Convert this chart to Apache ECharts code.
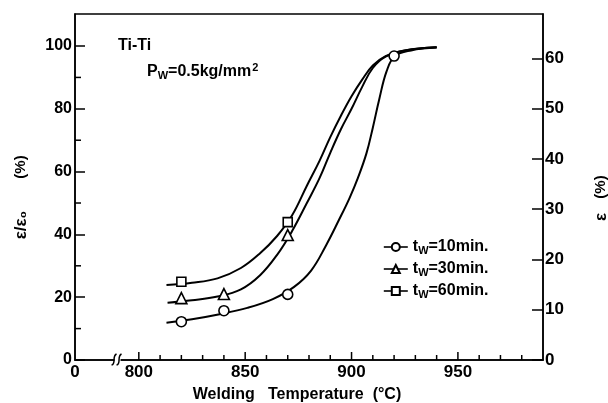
<!DOCTYPE html>
<html>
<head>
<meta charset="utf-8">
<script src="https://cdn.jsdelivr.net/npm/echarts@6/dist/echarts.min.js"></script>
<style>html,body{margin:0;padding:0;background:#fff}#c{width:608px;height:403px}</style>
</head>
<body>
<div id="c"></div>
<script>
// ---- data ----
const xMin = 770, xMax = 990;
const yLeftMax = 110.2, yRightMax = 68.8;
const xLabelTicks = [800, 850, 900, 950];
const xMinorTicks = [810, 820, 830, 840, 860, 870, 880, 890, 910, 920, 930, 940, 960, 970, 980];
const yLeftMinorTicks = [10, 30, 50, 70, 90];
const xBreakAt = 790;

const seriesNames = ['10', '30', '60'];
const points10 = [[820, 12.2], [840, 15.7], [870, 20.9], [920, 96.8]];
const points30 = [[820, 19.7], [840, 21.0], [870, 39.8]];
const points60 = [[820, 24.9], [870, 43.9]];

const curve10 = [[813, 11.9], [825, 13], [838, 14.6], [851, 16.6], [863, 19.4], [873, 23.3], [881, 28.5], [888, 36.5], [894, 44.5], [899, 51.5], [903, 58], [907, 65.8], [910, 74], [913, 83], [916.5, 92], [920.4, 96.8], [928, 98.6], [940, 99.5]];
const curve30 = [[813.5, 18.2], [825, 19], [837, 20.2], [848, 22.5], [857, 27], [865, 33.5], [872, 41], [879, 50], [885, 58], [890, 66], [895, 73.5], [900, 80], [905, 87], [910, 93], [916, 96.6], [925, 98.6], [940, 99.6]];
const curve60 = [[813, 23.9], [825, 24.6], [837, 26], [848, 29.3], [857, 34], [865, 39.5], [872, 46], [879, 55.5], [885, 63.5], [890, 71], [895, 77.8], [900, 84], [905, 89.3], [910, 93.8], [916, 96.8], [925, 98.6], [940, 99.6]];

const FONT = 'Liberation Sans';
const chart = echarts.init(document.getElementById('c'), null, {renderer: 'canvas'});

function tickRenderer(len, vertical) {
  return function (params, api) {
    const p = api.coord([api.value(0), api.value(1)]);
    return vertical
      ? {type: 'line', shape: {x1: p[0], y1: p[1], x2: p[0], y2: p[1] - len}, style: {stroke: '#000', lineWidth: 1.5}}
      : {type: 'line', shape: {x1: p[0], y1: p[1], x2: p[0] + len, y2: p[1]}, style: {stroke: '#000', lineWidth: 1.5}};
  };
}

const lineCurve = (data) => ({
  type: 'line', data: data, smooth: 0.4, showSymbol: false, symbol: 'none',
  lineStyle: {color: '#000', width: 2}, silent: true, z: 3, legendHoverLink: false
});
const pointSeries = (name, data, symbol, size) => ({
  name: name, type: 'line', data: data, symbol: symbol, symbolSize: size, showSymbol: true,
  lineStyle: {width: 0, opacity: 0}, itemStyle: {color: '#fff', borderColor: '#000', borderWidth: 1.6}, z: 5
});

chart.setOption({
  animation: false,
  backgroundColor: '#fff',
  grid: {left: 75, right: 65, top: 14, bottom: 43, show: true, borderColor: '#000', borderWidth: 1.5, backgroundColor: 'transparent'},
  xAxis: {
    type: 'value', min: xMin, max: xMax, interval: 10,
    axisLine: {lineStyle: {color: '#000', width: 1.5}},
    axisTick: {show: false},
    splitLine: {show: false},
    axisLabel: {
      color: '#000', fontFamily: FONT, fontWeight: 'bold', fontSize: 17, margin: 4,
      formatter: v => v === xMin ? '0' : (xLabelTicks.indexOf(v) >= 0 ? String(v) : '')
    }
  },
  yAxis: [{
    type: 'value', min: 0, max: yLeftMax, interval: 20, position: 'left',
    axisLine: {show: true, lineStyle: {color: '#000', width: 1.5}},
    axisTick: {show: true, inside: true, length: 10, lineStyle: {color: '#000', width: 1.5}},
    splitLine: {show: false},
    axisLabel: {color: '#000', fontFamily: FONT, fontWeight: 'bold', fontSize: 16, margin: 3, showMaxLabel: false,
      formatter: v => (v % 20 === 0 ? String(v) : '')}
  }, {
    type: 'value', min: 0, max: yRightMax, interval: 10, position: 'right',
    axisLine: {show: true, lineStyle: {color: '#000', width: 1.5}},
    axisTick: {show: true, inside: true, length: 11, lineStyle: {color: '#000', width: 1.5}},
    splitLine: {show: false},
    axisLabel: {color: '#000', fontFamily: FONT, fontWeight: 'bold', fontSize: 17, margin: 2, showMaxLabel: false,
      formatter: v => (v % 10 === 0 ? String(v) : '')}
  }],
  legend: {
    data: seriesNames,
    orient: 'vertical', left: 378, top: 233, itemWidth: 24, itemHeight: 10, itemGap: 4,
    lineStyle: {color: '#000', width: 1.6, opacity: 1},
    formatter: n => '{t|t}{s|W}{t|=' + n + 'min.}',
    textStyle: {
      color: '#000', fontFamily: FONT,
      rich: {
        t: {fontSize: 16, fontWeight: 'bold', fontFamily: FONT, color: '#000', lineHeight: 18},
        s: {fontSize: 11, fontWeight: 'bold', fontFamily: FONT, color: '#000', lineHeight: 18, padding: [7, 0, 0, 0]}
      }
    },
    selectedMode: false
  },
  graphic: [
    {type: 'text', left: 118, top: 38, style: {text: 'Ti-Ti', font: 'bold 16px "Liberation Sans"', fill: '#000'}},
    {type: 'text', left: 147, top: 62, style: {
      text: '{a|P}{b|W}{a|=0.5kg/mm}{c|2}', fill: '#000',
      rich: {
        a: {fontSize: 16, fontWeight: 'bold', fontFamily: FONT, lineHeight: 22},
        b: {fontSize: 11, fontWeight: 'bold', fontFamily: FONT, lineHeight: 22, padding: [8, 0, 0, 0]},
        c: {fontSize: 11, fontWeight: 'bold', fontFamily: FONT, lineHeight: 22, padding: [0, 0, 8, 1]}
      }}},
    {type: 'text', x: 297, y: 395, style: {text: 'Welding   Temperature  (°C)', font: 'bold 16px "Liberation Sans"', fill: '#000', textAlign: 'center', textVerticalAlign: 'middle'}},
    {type: 'text', x: 21, y: 225, rotation: Math.PI / 2, style: {text: 'ε/ε₀', font: 'bold 17px "Liberation Sans"', fill: '#000', textAlign: 'center', textVerticalAlign: 'middle'}},
    {type: 'text', x: 21, y: 167, rotation: Math.PI / 2, style: {text: '(%)', font: 'bold 15px "Liberation Sans"', fill: '#000', textAlign: 'center', textVerticalAlign: 'middle'}},
    {type: 'text', x: 601, y: 217, rotation: Math.PI / 2, style: {text: 'ε', font: 'bold 17px "Liberation Sans"', fill: '#000', textAlign: 'center', textVerticalAlign: 'middle'}},
    {type: 'text', x: 601, y: 187, rotation: Math.PI / 2, style: {text: '(%)', font: 'bold 15px "Liberation Sans"', fill: '#000', textAlign: 'center', textVerticalAlign: 'middle'}}
  ],
  series: [
    lineCurve(curve10), lineCurve(curve30), lineCurve(curve60),
    pointSeries('10', points10, 'circle', 10),
    pointSeries('30', points30, 'triangle', 11),
    pointSeries('60', points60, 'rect', 9),
    {type: 'custom', silent: true, clip: false, z: 4, data: xLabelTicks.map(v => [v, 0]), renderItem: tickRenderer(8, true)},
    {type: 'custom', silent: true, clip: false, z: 4, data: xMinorTicks.map(v => [v, 0]), renderItem: tickRenderer(5, true)},
    {type: 'custom', silent: true, clip: false, z: 4, data: yLeftMinorTicks.map(v => [xMin, v]), renderItem: tickRenderer(6, false)},
    {type: 'custom', silent: true, clip: false, z: 6, data: [[xBreakAt, 0]], renderItem: function (params, api) {
      const p = api.coord([api.value(0), api.value(1)]);
      const s = {stroke: '#000', lineWidth: 1.5, fill: null};
      return {type: 'group', children: [
        {type: 'rect', shape: {x: p[0] - 3, y: p[1] - 3, width: 6, height: 6}, style: {fill: '#fff'}},
        {type: 'bezierCurve', shape: {x1: p[0] - 6, y1: p[1] + 5, cpx1: p[0] - 1, cpy1: p[1] + 4, cpx2: p[0] - 6, cpy2: p[1] - 4, x2: p[0] - 1, y2: p[1] - 6}, style: s},
        {type: 'bezierCurve', shape: {x1: p[0] - 1, y1: p[1] + 5, cpx1: p[0] + 4, cpy1: p[1] + 4, cpx2: p[0] - 1, cpy2: p[1] - 4, x2: p[0] + 4, y2: p[1] - 6}, style: s}
      ]};
    }}
  ]
});
</script>
</body>
</html>
